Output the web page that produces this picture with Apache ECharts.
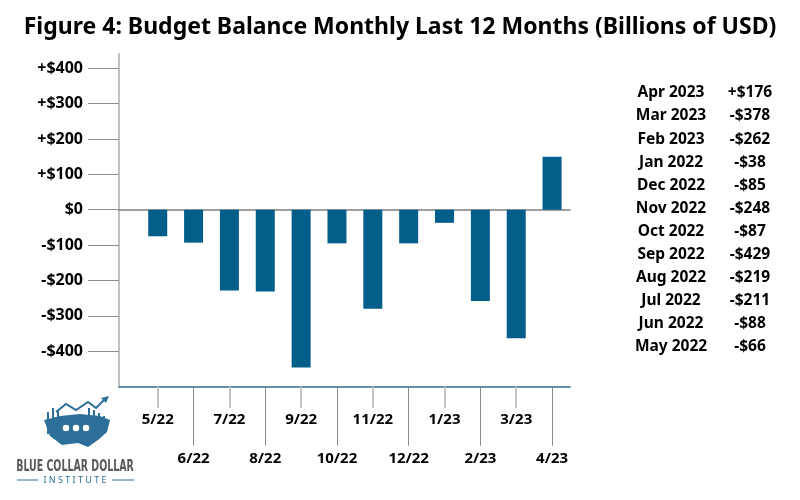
<!DOCTYPE html>
<html>
<head>
<meta charset="utf-8">
<title>Budget Balance Monthly</title>
<script src="https://cdn.jsdelivr.net/npm/echarts@6/dist/echarts.min.js"></script>
<style>
  html, body { margin: 0; padding: 0; background: #fff; }
  #main { width: 800px; height: 500px; }
</style>
</head>
<body>
<div id="main"></div>
<script>
// 柱状图数据 (billions of USD)
var categories = ['5/22', '6/22', '7/22', '8/22', '9/22', '10/22', '11/22', '12/22', '1/23', '2/23', '3/23', '4/23'];
var balances = [-75, -93, -228, -231, -446, -95, -280, -95, -37, -258, -363, 150];
var yTicks = [-400, -300, -200, -100, 0, 100, 200, 300, 400];

// 右侧表格
var tableMonths = ['Apr 2023', 'Mar 2023', 'Feb 2023', 'Jan 2022', 'Dec 2022', 'Nov 2022', 'Oct 2022', 'Sep 2022', 'Aug 2022', 'Jul 2022', 'Jun 2022', 'May 2022'];
var tableValues = ['+$176', '-$378', '-$262', '-$38', '-$85', '-$248', '-$87', '-$429', '-$219', '-$211', '-$88', '-$66'];

var FONT = 'Noto Sans';
var BAR_COLOR = '#035e8a';

function moneyLabel(v) {
    if (v > 0) return '+$' + v;
    if (v < 0) return '-$' + (-v);
    return '$0';
}

// table + logo as graphic elements
function buildGraphic() {
    var items = [];
    tableMonths.forEach(function (m, i) {
        items.push({
            type: 'text', x: 671, y: 93 + i * 23.05,
            style: { text: m, font: 'bold 15.5px "' + FONT + '"', fill: '#000', align: 'center', verticalAlign: 'middle' }
        });
        items.push({
            type: 'text', x: 750, y: 93 + i * 23.05,
            style: { text: tableValues[i], font: 'bold 15.5px "' + FONT + '"', fill: '#000', align: 'center', verticalAlign: 'middle' }
        });
    });
    // logo (rough)
    var logoBlue = '#2d6f98';
    items.push({
        type: 'polygon',
        shape: { points: [[44, 420], [60, 416], [80, 414], [100, 416], [110, 420], [107, 432], [98, 440], [88, 447], [78, 443], [62, 445], [50, 436]] },
        style: { fill: logoBlue }
    });
    [[47, 412, 2, 22], [52, 408, 2, 28], [57, 410, 2, 26], [88, 408, 2, 28], [93, 410, 2, 26], [98, 413, 2, 22], [103, 416, 2, 18]].forEach(function (b) {
        items.push({ type: 'rect', shape: { x: b[0], y: b[1], width: b[2], height: b[3] }, style: { fill: logoBlue } });
    });
    [[66, 428], [76, 428], [86, 428]].forEach(function (c) {
        items.push({ type: 'circle', shape: { cx: c[0], cy: c[1], r: 4 }, style: { fill: '#fff', stroke: logoBlue, lineWidth: 1.5 } });
    });
    items.push({
        type: 'polyline',
        shape: { points: [[56, 412], [66, 404], [76, 410], [88, 402], [96, 408], [104, 400]] },
        style: { stroke: logoBlue, lineWidth: 2, fill: null }
    });
    items.push({
        type: 'polygon',
        shape: { points: [[101, 398], [109, 396], [106, 403]] },
        style: { fill: logoBlue }
    });
    items.push({
        type: 'text', x: 75, y: 467, scaleX: 0.7,
        style: { text: 'BLUE COLLAR DOLLAR', font: 'bold 15px "DejaVu Sans Condensed", "' + FONT + '"', fill: '#5a5a5a', align: 'center', verticalAlign: 'middle' }
    });
    items.push({
        type: 'text', x: 75, y: 480,
        style: { text: 'I N S T I T U T E', font: '9px "' + FONT + '"', fill: logoBlue, align: 'center', verticalAlign: 'middle' }
    });
    items.push({ type: 'line', shape: { x1: 17, y1: 480, x2: 38, y2: 480 }, style: { stroke: logoBlue, lineWidth: 1 } });
    items.push({ type: 'line', shape: { x1: 112, y1: 480, x2: 134, y2: 480 }, style: { stroke: logoBlue, lineWidth: 1 } });
    return items;
}

var chart = echarts.init(document.getElementById('main'));

var option = {
    backgroundColor: '#fff',
    animation: false,
    textStyle: { fontFamily: FONT },
    title: {
        text: 'Figure 4: Budget Balance Monthly Last 12 Months (Billions of USD)',
        left: 'center', top: 11,
        textStyle: { fontSize: 23, fontWeight: 'bold', color: '#000', fontFamily: FONT }
    },
    grid: [
        // axis frame
        { left: 119, right: 230, top: 54, bottom: 113.3 },
        // bars
        { left: 139.8, right: 230, top: 54, bottom: 113.3 }
    ],
    xAxis: [
        {   // blue bottom line
            type: 'value', gridIndex: 0, min: 0, max: 1, position: 'bottom',
            axisLine: { onZero: false, lineStyle: { color: '#2f6c95', width: 1.5 } },
            axisTick: { show: false }, axisLabel: { show: false }, splitLine: { show: false }
        },
        {   // even labels, short ticks
            type: 'category', gridIndex: 1, data: categories, position: 'bottom',
            axisLine: { show: true, onZero: false, lineStyle: { color: 'rgba(0,0,0,0)' } },
            axisTick: {
                show: true, alignWithLabel: true, length: 21,
                interval: function (i) { return i % 2 === 0; },
                lineStyle: { color: '#c4c4c4', width: 2 }
            },
            axisLabel: {
                margin: 26, fontSize: 15, fontWeight: 'bold', color: '#000',
                interval: function (i) { return i % 2 === 0; }
            }
        },
        {   // odd labels, long ticks
            type: 'category', gridIndex: 1, data: categories, position: 'bottom',
            axisLine: { show: true, onZero: false, lineStyle: { color: 'rgba(0,0,0,0)' } },
            axisTick: {
                show: true, alignWithLabel: true, length: 59,
                interval: function (i) { return i % 2 === 1; },
                lineStyle: { color: '#8c8c8c', width: 1 }
            },
            axisLabel: {
                margin: 65, fontSize: 15, fontWeight: 'bold', color: '#000',
                interval: function (i) { return i % 2 === 1; }
            }
        },
        {   // zero line
            type: 'value', gridIndex: 0, min: 0, max: 1, position: 'top',
            axisLine: { onZero: true, lineStyle: { color: '#808080', width: 1.5 } },
            axisTick: { show: false }, axisLabel: { show: false }, splitLine: { show: false }
        }
    ],
    yAxis: [
        {
            type: 'value', gridIndex: 0, min: -500, max: 440,
            axisLine: { show: true, onZero: false, lineStyle: { color: '#c0c0c0', width: 2 } },
            axisTick: { show: true, length: 31, customValues: yTicks, lineStyle: { color: '#8c8c8c', width: 1 } },
            axisLabel: {
                customValues: yTicks, margin: 36, fontSize: 16, fontWeight: 'bold', color: '#000',
                formatter: moneyLabel
            },
            splitLine: { show: false }
        },
        {
            type: 'value', gridIndex: 1, min: -500, max: 440, show: false,
            splitLine: { show: false }
        }
    ],
    series: [
        {
            type: 'bar', xAxisIndex: 1, yAxisIndex: 1,
            data: balances, barWidth: 19,
            itemStyle: { color: BAR_COLOR }
        }
    ],
    graphic: buildGraphic()
};

chart.setOption(option);
</script>
</body>
</html>
